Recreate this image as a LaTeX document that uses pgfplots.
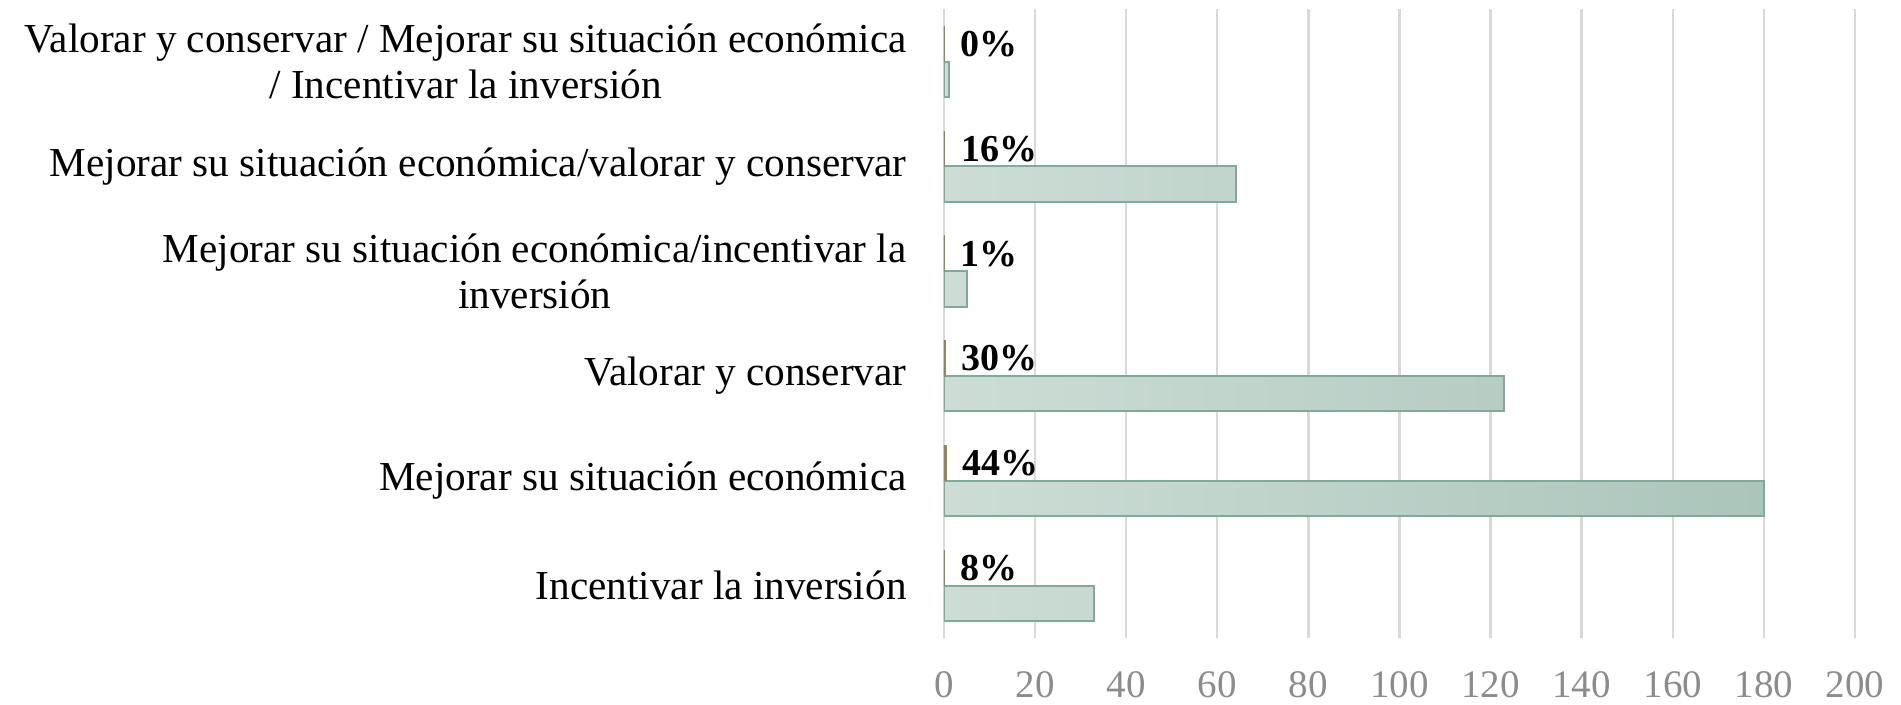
\documentclass[border=0pt]{standalone}
\usepackage{pgfplots}
\pgfplotsset{compat=1.18}
\usepackage{fontspec}
\setmainfont{Liberation Serif}
\definecolor{gridc}{HTML}{D9D9D9}
\definecolor{barL}{HTML}{CDDDD6}
\definecolor{barR}{HTML}{ABC5BB}
\definecolor{barE}{HTML}{82A899}
\definecolor{thinc}{HTML}{8A8A5E}
\definecolor{tickc}{HTML}{8C8C8C}
\begin{document}
\begin{tikzpicture}
\begin{axis}[
  at={(0,0)}, anchor=south west,
  scale only axis, width=455.5pt, height=314.4pt,
  xmin=0, xmax=200, ymin=-0.5, ymax=5.5,
  xtick={0,20,...,200}, ytick={0,1,2,3,4,5},
  yticklabels={
    {Incentivar la inversión},
    {Mejorar su situación económica},
    {Valorar y conservar},
    {Mejorar su situación económica/incentivar la\\inversión},
    {Mejorar su situación económica/valorar y conservar},
    {Valorar y conservar / Mejorar su situación económica\\/ Incentivar la inversión}},
  axis line style={draw=none},
  major tick length=0pt,
  xmajorgrids, major grid style={draw=gridc, line width=1.2pt},
  /pgf/number format/assume math mode=true,
  xticklabel style={anchor=center, yshift=-23.5pt, text=tickc, font=\fontsize{19.5}{23}\selectfont},
  yticklabel style={anchor=east, align=center, inner sep=0pt, xshift=-18.5pt, font=\fontsize{20.6}{23}\selectfont},
]
\addplot[xbar, bar width=0.337, bar shift=-0.1685, draw=barE, line width=1pt, left color=barL, right color=barR]
  coordinates {(33,0) (180,1) (123,2) (5,3) (64,4) (1,5)};
\addplot[xbar, bar width=0.337, bar shift=0.1685, draw=thinc, fill=thinc, line width=0.6pt,
  nodes near coords, point meta=explicit symbolic,
  nodes near coords style={anchor=west, inner sep=0pt, xshift=8pt, yshift=8.8pt, text=black, font=\bfseries\fontsize{19}{23}\selectfont}]
  coordinates {(0.08,0) [8\%] (0.44,1) [44\%] (0.30,2) [30\%] (0.01,3) [1\%] (0.16,4) [16\%] (0.0025,5) [0\%]};
\end{axis}
\pgfresetboundingbox
\path[use as bounding box] (-472pt,-33pt) rectangle (478.5pt,319.05pt);
\end{tikzpicture}
\end{document}
